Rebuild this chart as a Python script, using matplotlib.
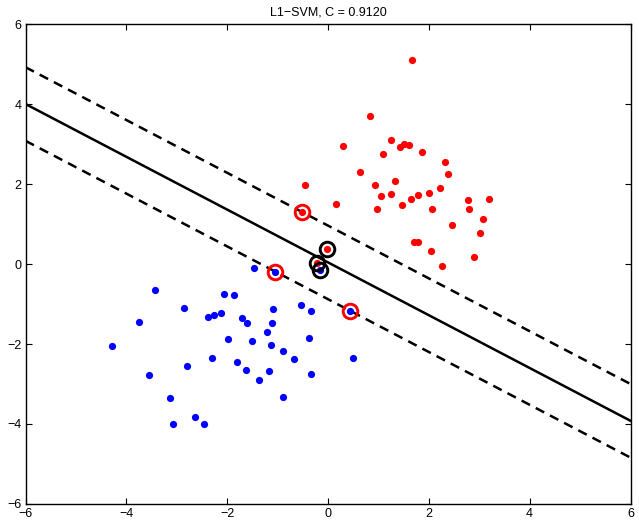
import numpy as np
import matplotlib
matplotlib.use('Agg')
import matplotlib.pyplot as plt

plt.rcParams['font.family'] = ['Liberation Sans', 'DejaVu Sans']

# class +1 (red) points
red_x = [1.66, 0.83, 1.25, 1.51, 1.61, 1.43, 0.29, 1.10, 1.87, 2.32, 2.38, 0.63,
         0.94, 1.33, 2.23, 1.05, 1.25, 1.79, 2.01, 1.64, 1.47, 0.98, 2.07, 2.78,
         3.19, 2.79, 3.08, 2.46, 3.02, 1.71, 1.79, 2.05, 2.90, 2.26, -0.45, 0.16,
         -0.51, -0.01, -0.22]
red_y = [5.10, 3.70, 3.09, 3.01, 2.98, 2.93, 2.96, 2.74, 2.80, 2.56, 2.24, 2.30,
         1.98, 2.07, 1.89, 1.70, 1.75, 1.73, 1.77, 1.63, 1.48, 1.37, 1.37, 1.61,
         1.62, 1.37, 1.13, 0.98, 0.77, 0.56, 0.56, 0.33, 0.18, -0.05, 1.98, 1.50,
         1.30, 0.37, 0.02]

# class -1 (blue) points
blue_x = [-1.47, -1.06, -0.16, -3.44, -2.07, -1.86, -2.85, -3.74, -2.38, -2.26,
          -2.12, -1.71, -1.61, -1.09, -1.12, -1.21, -0.54, -0.33, 0.43, -4.29,
          -1.99, -1.50, -1.13, -0.37, -0.89, -0.67, 0.50, -2.30, -2.79, -1.80,
          -1.62, -1.17, -0.34, -3.56, -1.36, -3.14, -0.89, -2.63, -3.07, -2.46]
blue_y = [-0.10, -0.20, -0.15, -0.65, -0.76, -0.78, -1.11, -1.46, -1.32, -1.28,
          -1.23, -1.36, -1.47, -1.13, -1.48, -1.71, -1.03, -1.17, -1.18, -2.05,
          -1.88, -1.93, -2.03, -1.84, -2.17, -2.37, -2.36, -2.36, -2.55, -2.46,
          -2.66, -2.67, -2.76, -2.77, -2.89, -3.34, -3.33, -3.83, -3.99, -4.01]

# support vectors on the margin (red rings) and inside the margin (black rings)
sv_margin_x = [-0.51, -1.06, 0.43]
sv_margin_y = [1.30, -0.20, -1.18]
sv_inside_x = [-0.01, -0.22, -0.16]
sv_inside_y = [0.37, 0.02, -0.15]

# separating line y = slope*x + intercept, margins at +/- offset
slope = -0.66
intercept = 0.04
offset = 0.92

fig = plt.figure(figsize=(6.39, 5.24), dpi=100)
ax = fig.add_axes([25.5 / 639, 1 - 504 / 524, 605 / 639, 480 / 524])

xs = np.array([-6.0, 6.0])
ax.plot(xs, slope * xs + intercept, 'k-', lw=1.8)
ax.plot(xs, slope * xs + intercept + offset, 'k--', lw=1.8, dashes=(3.8, 2.6))
ax.plot(xs, slope * xs + intercept - offset, 'k--', lw=1.8, dashes=(3.8, 2.6))

ax.plot(red_x, red_y, 'o', color='#ff0000', ms=5.2, mec='none')
ax.plot(blue_x, blue_y, 'o', color='#0000ff', ms=5.2, mec='none')

ax.plot(sv_margin_x, sv_margin_y, 'o', mfc='none', mec='#ff0000', ms=10.5, mew=2.1)
ax.plot(sv_inside_x, sv_inside_y, 'o', mfc='none', mec='k', ms=10.5, mew=2.1)

ax.set_xlim(-6, 6)
ax.set_ylim(-6, 6)
ax.set_xticks(np.arange(-6, 7, 2))
ax.set_yticks(np.arange(-6, 7, 2))
ax.tick_params(direction='in', top=True, right=True, length=4, labelsize=9, pad=3)
for s in ax.spines.values():
    s.set_linewidth(1)
ax.set_title('L1\u2212SVM, C = 0.9120', fontsize=9, pad=6)

fig.savefig('out.png', dpi=100)
